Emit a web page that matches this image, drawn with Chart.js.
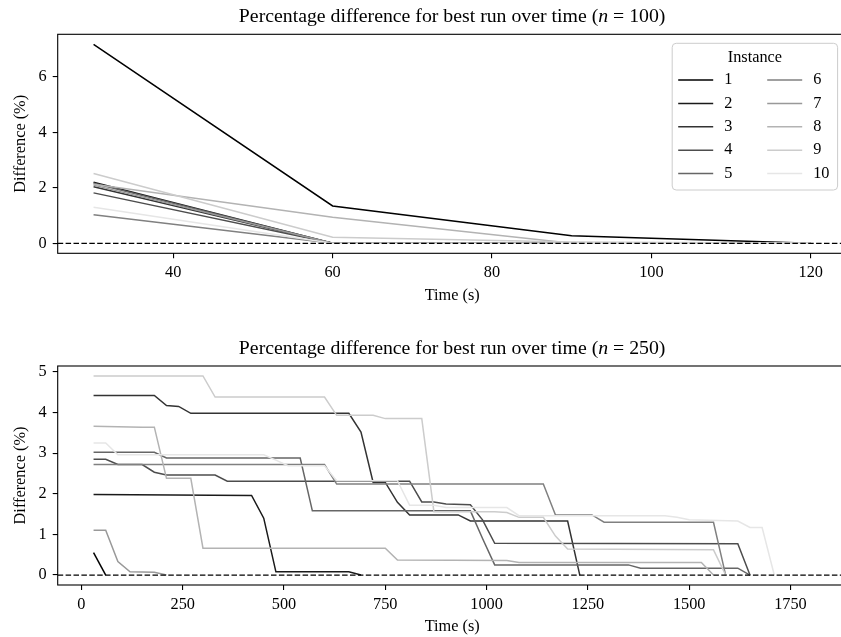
<!DOCTYPE html>
<html>
<head>
<meta charset="utf-8">
<script src="https://cdn.jsdelivr.net/npm/chart.js@4"></script>
<style>
  html, body { margin: 0; padding: 0; background: #fff; }
  #wrap { position: relative; width: 841px; height: 637px; overflow: hidden; }
  canvas { position: absolute; left: 0; }
</style>
</head>
<body>
<div id="wrap">
  <canvas id="chart100" width="860" height="318" style="top:0px"></canvas>
  <canvas id="chart250" width="860" height="319" style="top:318px"></canvas>
</div>
<script>
// ---- n = 100 : best run difference (%) at each 30 s checkpoint
const time100 = [30, 60, 90, 120];
const diff100_1 = [7.18, 1.35, 0.27, 0.0];
const diff100_2 = [2.20, 0.0, 0.0, 0.0];
const diff100_3 = [2.04, 0.0, 0.0, 0.0];
const diff100_4 = [1.82, 0.0, 0.0, 0.0];
const diff100_5 = [2.17, 0.0, 0.0, 0.0];
const diff100_6 = [1.03, 0.0, 0.0, 0.0];
const diff100_7 = [2.10, 0.0, 0.0, 0.0];
const diff100_8 = [2.13, 0.94, 0.0, 0.0];
const diff100_9 = [2.52, 0.22, 0.05, 0.0];
const diff100_10 = [1.30, 0.0, 0.0, 0.0];

// ---- n = 250 : (time, difference) where the curve changes
const t250_1 = [30, 60];
const d250_1 = [0.55, 0.0];
const t250_2 = [30, 420, 450, 480, 660, 690];
const d250_2 = [1.98, 1.96, 1.40, 0.08, 0.08, 0.0];
const t250_3 = [30, 180, 210, 240, 270, 660, 690, 720, 750, 780, 810, 930, 960, 1200, 1230];
const d250_3 = [4.42, 4.42, 4.17, 4.15, 3.98, 3.98, 3.52, 2.28, 2.28, 1.79, 1.48, 1.48, 1.33, 1.33, 0.0];
const t250_4 = [30, 60, 90, 150, 180, 210, 330, 360, 810, 840, 870, 900, 960, 990, 1020, 1620, 1650];
const d250_4 = [2.85, 2.85, 2.72, 2.72, 2.53, 2.46, 2.46, 2.31, 2.31, 1.80, 1.80, 1.75, 1.73, 1.36, 0.78, 0.77, 0.0];
const t250_5 = [30, 180, 210, 540, 570, 960, 990, 1020, 1350, 1380, 1620, 1650];
const d250_5 = [3.02, 3.02, 2.88, 2.88, 1.58, 1.58, 0.90, 0.25, 0.25, 0.17, 0.17, 0.0];
const t250_6 = [30, 600, 630, 1140, 1170, 1260, 1290, 1560, 1590];
const d250_6 = [2.72, 2.72, 2.24, 2.24, 1.48, 1.48, 1.30, 1.30, 0.0];
const t250_7 = [30, 60, 90, 120, 180, 210];
const d250_7 = [1.10, 1.10, 0.33, 0.08, 0.07, 0.0];
const t250_8 = [30, 150, 180, 210, 270, 300, 750, 780, 1050, 1080, 1530, 1560];
const d250_8 = [3.66, 3.64, 3.64, 2.38, 2.38, 0.66, 0.66, 0.37, 0.36, 0.31, 0.31, 0.0];
const t250_9 = [30, 300, 330, 600, 630, 720, 750, 840, 870, 1020, 1050, 1080, 1140, 1170, 1200, 1560, 1590];
const d250_9 = [4.90, 4.90, 4.38, 4.38, 3.93, 3.93, 3.85, 3.85, 1.56, 1.56, 1.54, 1.42, 1.42, 0.96, 0.64, 0.62, 0.0];
const t250_10 = [30, 60, 90, 450, 480, 510, 600, 630, 780, 810, 870, 900, 1050, 1080, 1440, 1470, 1500, 1620, 1650, 1680, 1710];
const d250_10 = [3.25, 3.25, 2.96, 2.96, 2.83, 2.69, 2.69, 2.32, 2.32, 1.72, 1.72, 1.66, 1.66, 1.46, 1.46, 1.42, 1.36, 1.33, 1.17, 1.17, 0.0];

const instances = ['1', '2', '3', '4', '5', '6', '7', '8', '9', '10'];
const xTicks100 = [40, 60, 80, 100, 120];
const yTicks100 = [0, 2, 4, 6];
const xTicks250 = [0, 250, 500, 750, 1000, 1250, 1500, 1750];
const yTicks250 = [0, 1, 2, 3, 4, 5];

const greys = ['#000000', '#1a1a1a', '#333333', '#4d4d4d', '#666666',
               '#808080', '#999999', '#b3b3b3', '#cccccc', '#e6e6e6'];
const serif = '"Liberation Serif", "Times New Roman", serif';
const tickSize = 16.3;

// matplotlib style 5% margins
function lim(lo, hi) { const r = hi - lo; return [lo - 0.05 * r, hi + 0.05 * r]; }

const series100 = [diff100_1, diff100_2, diff100_3, diff100_4, diff100_5,
                   diff100_6, diff100_7, diff100_8, diff100_9, diff100_10];
const series250 = [[t250_1, d250_1], [t250_2, d250_2], [t250_3, d250_3], [t250_4, d250_4], [t250_5, d250_5],
                   [t250_6, d250_6], [t250_7, d250_7], [t250_8, d250_8], [t250_9, d250_9], [t250_10, d250_10]];

const framePlugin = {
    id: 'frame',
    afterDraw(chart, args, opts) {
        const ctx = chart.ctx, ca = chart.chartArea;
        ctx.save();
        ctx.strokeStyle = '#000';
        ctx.lineWidth = 1.1;
        ctx.strokeRect(ca.left, ca.top, ca.right - ca.left, ca.bottom - ca.top);

        // title, with italic n
        const parts = [[opts.pre, ''], ['n', 'italic '], [' = ' + opts.n + ')', '']];
        let w = 0;
        parts.forEach(p => { ctx.font = p[1] + opts.size + 'px ' + serif; p.push(ctx.measureText(p[0]).width); w += p[2]; });
        let x = (ca.left + ca.right) / 2 - w / 2;
        ctx.fillStyle = '#000';
        ctx.textBaseline = 'middle';
        ctx.textAlign = 'left';
        parts.forEach(p => { ctx.font = p[1] + opts.size + 'px ' + serif; ctx.fillText(p[0], x, ca.top - 17.2); x += p[2]; });
        ctx.restore();
    }
};

const legendPlugin = {
    id: 'instLegend',
    afterDraw(chart, args, opts) {
        if (!opts.show) return;
        const ctx = chart.ctx, ca = chart.chartArea;
        const bw = 165.4, bh = 146.7;
        const bx = ca.right - 9 - bw, by = ca.top + 9;
        ctx.save();
        ctx.beginPath();
        ctx.roundRect(bx, by, bw, bh, 4);
        ctx.fillStyle = 'rgba(255,255,255,0.8)';
        ctx.fill();
        ctx.strokeStyle = '#cccccc';
        ctx.lineWidth = 1;
        ctx.stroke();
        ctx.font = tickSize + 'px ' + serif;
        ctx.fillStyle = '#000';
        ctx.textBaseline = 'middle';
        ctx.textAlign = 'center';
        ctx.fillText('Instance', bx + bw / 2, by + 14.5);
        ctx.textAlign = 'left';
        const sets = chart.data.datasets.filter(d => d.inLegend);
        sets.forEach((d, i) => {
            const col = Math.floor(i / 5), row = i % 5;
            const y = by + 36.7 + row * 23.4;
            const hx = bx + 6 + col * 89;
            ctx.strokeStyle = d.borderColor;
            ctx.lineWidth = 1.5;
            ctx.beginPath();
            ctx.moveTo(hx, y);
            ctx.lineTo(hx + 35, y);
            ctx.stroke();
            ctx.fillStyle = '#000';
            ctx.fillText(d.label, hx + 46, y);
        });
        ctx.restore();
    }
};

function makeChart(id, datasets, xLim, yLim, xTicks, yTicks, top, xAxisH, xPad, xTitlePad, n, legend) {
    datasets.push({
        label: 'zero', inLegend: false,
        data: [{x: xLim[0], y: 0}, {x: xLim[1], y: 0}],
        borderColor: '#000', borderWidth: 1.3, borderDash: [5.5, 2.4],
        pointRadius: 0, order: -1
    });
    const canvas = document.getElementById(id);
    return new Chart(canvas.getContext('2d'), {
        type: 'line',
        data: { datasets: datasets },
        options: {
            responsive: false,
            animation: false,
            layout: { padding: { left: 0, top: top, right: canvas.width - 846.6, bottom: 0 } },
            plugins: {
                legend: { display: false },
                title: { display: false },
                tooltip: { enabled: false },
                frame: { pre: 'Percentage difference for best run over time (', n: n, size: 19.8 },
                instLegend: { show: legend }
            },
            scales: {
                x: {
                    type: 'linear', min: xLim[0], max: xLim[1],
                    afterFit: s => { s.height = xAxisH; },
                    afterBuildTicks: s => { s.ticks = xTicks.map(v => ({value: v})); },
                    grid: { drawOnChartArea: false, drawTicks: true, tickLength: 5, color: '#000', lineWidth: 1.1 },
                    border: { display: false },
                    ticks: { color: '#000', padding: xPad, maxRotation: 0, callback: v => String(v),
                             font: { family: serif, size: tickSize } },
                    title: { display: true, text: 'Time (s)', color: '#000', padding: { top: 0, bottom: xTitlePad },
                             font: { family: serif, size: tickSize } }
                },
                y: {
                    type: 'linear', min: yLim[0], max: yLim[1],
                    afterFit: s => { s.width = 57.7; },
                    afterBuildTicks: s => { s.ticks = yTicks.map(v => ({value: v})); },
                    grid: { drawOnChartArea: false, drawTicks: true, tickLength: 5, color: '#000', lineWidth: 1.1 },
                    border: { display: false },
                    ticks: { color: '#000', padding: 6, callback: v => String(v),
                             font: { family: serif, size: tickSize } },
                    title: { display: true, text: 'Difference (%)', color: '#000', padding: { top: 10.7, bottom: 0 },
                             font: { family: serif, size: tickSize } }
                }
            }
        },
        plugins: [framePlugin, legendPlugin]
    });
}

const sets100 = series100.map((vals, i) => ({
    label: instances[i], inLegend: true,
    data: time100.map((t, j) => ({x: t, y: vals[j]})),
    borderColor: greys[i], borderWidth: 1.5, pointRadius: 0, tension: 0, order: 10 - i
}));
const sets250 = series250.map((s, i) => ({
    label: instances[i], inLegend: true,
    data: s[0].map((t, j) => ({x: t, y: s[1][j]})),
    borderColor: greys[i], borderWidth: 1.5, pointRadius: 0, tension: 0, order: 10 - i
}));

makeChart('chart100', sets100, lim(30, 120), lim(0, 7.18), xTicks100, yTicks100, 34.3, 64.7, 4.9, 12.2, '100', true);
makeChart('chart250', sets250, lim(30, 1800), lim(0, 4.9), xTicks250, yTicks250, 48, 52, 5.2, 0, '250', false);
</script>
</body>
</html>
